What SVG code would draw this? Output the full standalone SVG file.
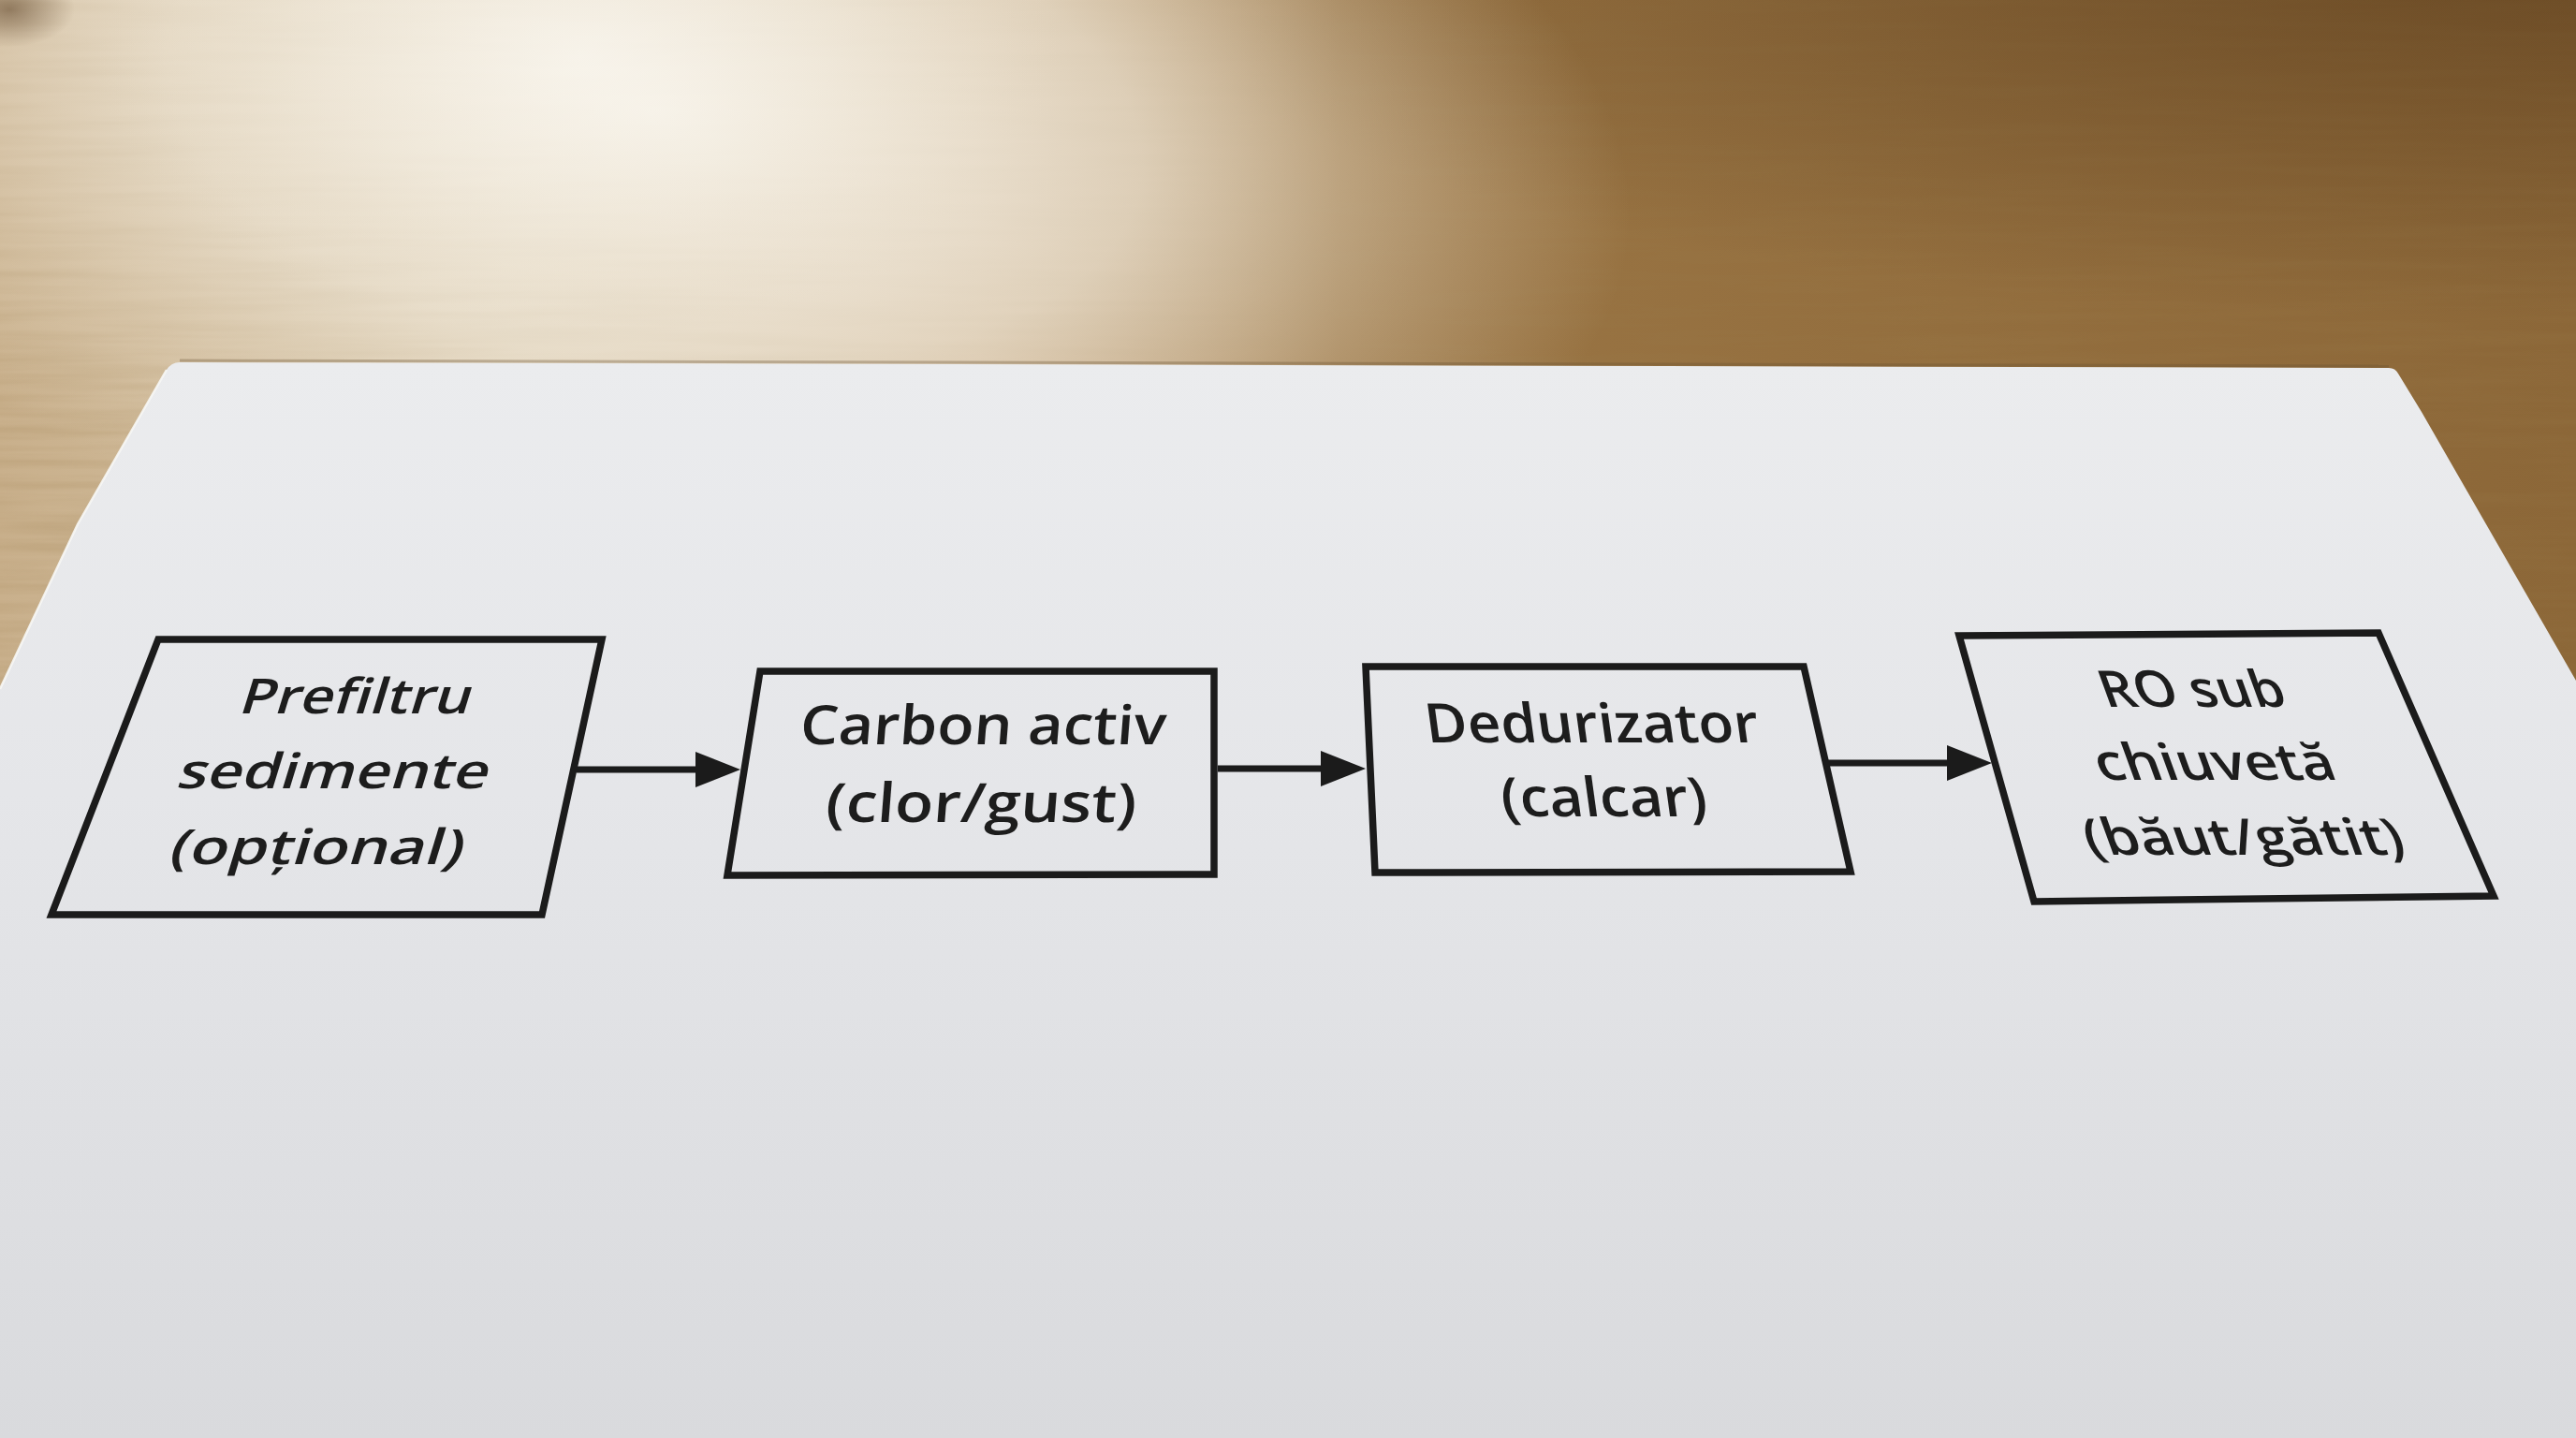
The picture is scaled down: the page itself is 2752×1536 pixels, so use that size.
<svg xmlns="http://www.w3.org/2000/svg" width="2752" height="1536" viewBox="0 0 2752 1536">
  <defs>
    <style>
      .box { fill: none; stroke: #1b1b1b; stroke-width: 7.5; stroke-linejoin: miter; }
      .conn { stroke: #1b1b1b; stroke-width: 7; fill: none; }
      .t { font-family: "Open Sans", "Noto Sans", "DejaVu Sans", sans-serif; font-weight: 600; fill: #1d1d1d; text-anchor: middle; }
      .t1 { font-size: 52px; }
      .t2 { font-size: 58px; }
      .t4 { font-size: 54px; }
    </style>
    <linearGradient id="woodBase" gradientUnits="userSpaceOnUse" x1="0" y1="0" x2="2752" y2="0">
      <stop offset="0" stop-color="#c9b08c"/>
      <stop offset="0.20" stop-color="#d6c4a6"/>
      <stop offset="0.38" stop-color="#c0a078"/>
      <stop offset="0.52" stop-color="#9a7544"/>
      <stop offset="1" stop-color="#8c6738"/>
    </linearGradient>
    <radialGradient id="glare" cx="0.5" cy="0.5" r="0.5">
      <stop offset="0" stop-color="#faf7f0" stop-opacity="0.95"/>
      <stop offset="0.5" stop-color="#f1eadc" stop-opacity="0.7"/>
      <stop offset="1" stop-color="#e6d9c2" stop-opacity="0"/>
    </radialGradient>
    <radialGradient id="darkTop" cx="0.5" cy="0.5" r="0.5">
      <stop offset="0" stop-color="#4a2e12" stop-opacity="0.5"/>
      <stop offset="1" stop-color="#4a2e12" stop-opacity="0"/>
    </radialGradient>
    <linearGradient id="paperGrad" gradientUnits="userSpaceOnUse" x1="0" y1="387" x2="0" y2="1536">
      <stop offset="0" stop-color="#ebecee"/>
      <stop offset="0.4" stop-color="#e5e6e9"/>
      <stop offset="1" stop-color="#d9dadd"/>
    </linearGradient>
    <filter id="grain" x="0" y="0" width="100%" height="100%">
      <feTurbulence type="fractalNoise" baseFrequency="0.004 0.09" numOctaves="3" seed="7"/>
      <feColorMatrix type="matrix" values="0 0 0 0 0.32  0 0 0 0 0.2  0 0 0 0 0.07  0 0 0 -1.6 1.05"/>
    </filter>
    <marker id="arrow" markerUnits="userSpaceOnUse" markerWidth="48" markerHeight="38" refX="2" refY="19" orient="auto">
      <path d="M0,0 L48,19 L0,38 Z" fill="#1b1b1b"/>
    </marker>
  </defs>

  <!-- desk -->
  <rect x="0" y="0" width="2752" height="1536" fill="url(#woodBase)"/>
  <rect x="0" y="0" width="2752" height="780" filter="url(#grain)" opacity="0.25"/>
  <ellipse cx="2700" cy="-40" rx="1500" ry="380" fill="url(#darkTop)"/>
  <ellipse cx="700" cy="120" rx="1050" ry="520" fill="url(#glare)" transform="rotate(8 700 120)"/>
  <ellipse cx="620" cy="60" rx="520" ry="300" fill="url(#glare)" opacity="0.6"/>
  <ellipse cx="10" cy="10" rx="70" ry="40" fill="url(#darkTop)"/>

  <!-- paper -->
  <path d="M0,736 L83,560 L178,395 Q183,387 192,387 L2552,393 Q2559,393 2562,399 L2587,440 L2752,727 L2752,1536 L0,1536 Z" fill="url(#paperGrad)"/>
  <path d="M192,385 L2552,391" stroke="#6b5234" stroke-opacity="0.35" stroke-width="3" fill="none"/>
  <path d="M0,736 L83,560 L178,395" stroke="#f7f7f5" stroke-width="2.5" fill="none" opacity="0.9"/>

  <!-- nodes -->
  <g id="node-prefiltru">
    <polygon class="box" points="169,683 643,683 579,977 55,977"/>
    <text class="t t1" transform="translate(377,762) skewX(-17)" textLength="247" lengthAdjust="spacingAndGlyphs">Prefiltru</text>
    <text class="t t1" transform="translate(353,842) skewX(-17)" textLength="332" lengthAdjust="spacingAndGlyphs">sedimente</text>
    <text class="t t1" transform="translate(335,923) skewX(-17)" textLength="313" lengthAdjust="spacingAndGlyphs">(opțional)</text>
  </g>
  <g id="node-carbon">
    <polygon class="box" points="812,717 1297,717 1297,934 777,935"/>
    <text class="t t2" transform="translate(1049,795) skewX(-4.5)" textLength="391" lengthAdjust="spacingAndGlyphs">Carbon activ</text>
    <text class="t t2" transform="translate(1047,878) skewX(-4.5)" textLength="332" lengthAdjust="spacingAndGlyphs">(clor/gust)</text>
  </g>
  <g id="node-dedurizator">
    <polygon class="box" points="1459,712 1927,712 1977,931 1469,932"/>
    <text class="t t2" transform="translate(1703,793) skewX(7.8)" textLength="356" lengthAdjust="spacingAndGlyphs">Dedurizator</text>
    <text class="t t2" transform="translate(1716,872) skewX(7.8)" textLength="220" lengthAdjust="spacingAndGlyphs">(calcar)</text>
  </g>
  <g id="node-ro">
    <polygon class="box" points="2093,679 2541,676 2664,957 2173,963"/>
    <text class="t t4" transform="translate(2348,755) skewX(20)" textLength="196" lengthAdjust="spacingAndGlyphs">RO sub</text>
    <text class="t t4" transform="translate(2372,833) skewX(20)" textLength="255" lengthAdjust="spacingAndGlyphs">chiuvetă</text>
    <text class="t t4" transform="translate(2403,913) skewX(20)" textLength="340" lengthAdjust="spacingAndGlyphs">(băut/gătit)</text>
  </g>

  <!-- connectors -->
  <g id="connectors">
    <line class="conn" x1="616" y1="822" x2="745" y2="822" marker-end="url(#arrow)"/>
    <line class="conn" x1="1301" y1="821" x2="1413" y2="821" marker-end="url(#arrow)"/>
    <line class="conn" x1="1952" y1="815" x2="2082" y2="815" marker-end="url(#arrow)"/>
  </g>
</svg>
